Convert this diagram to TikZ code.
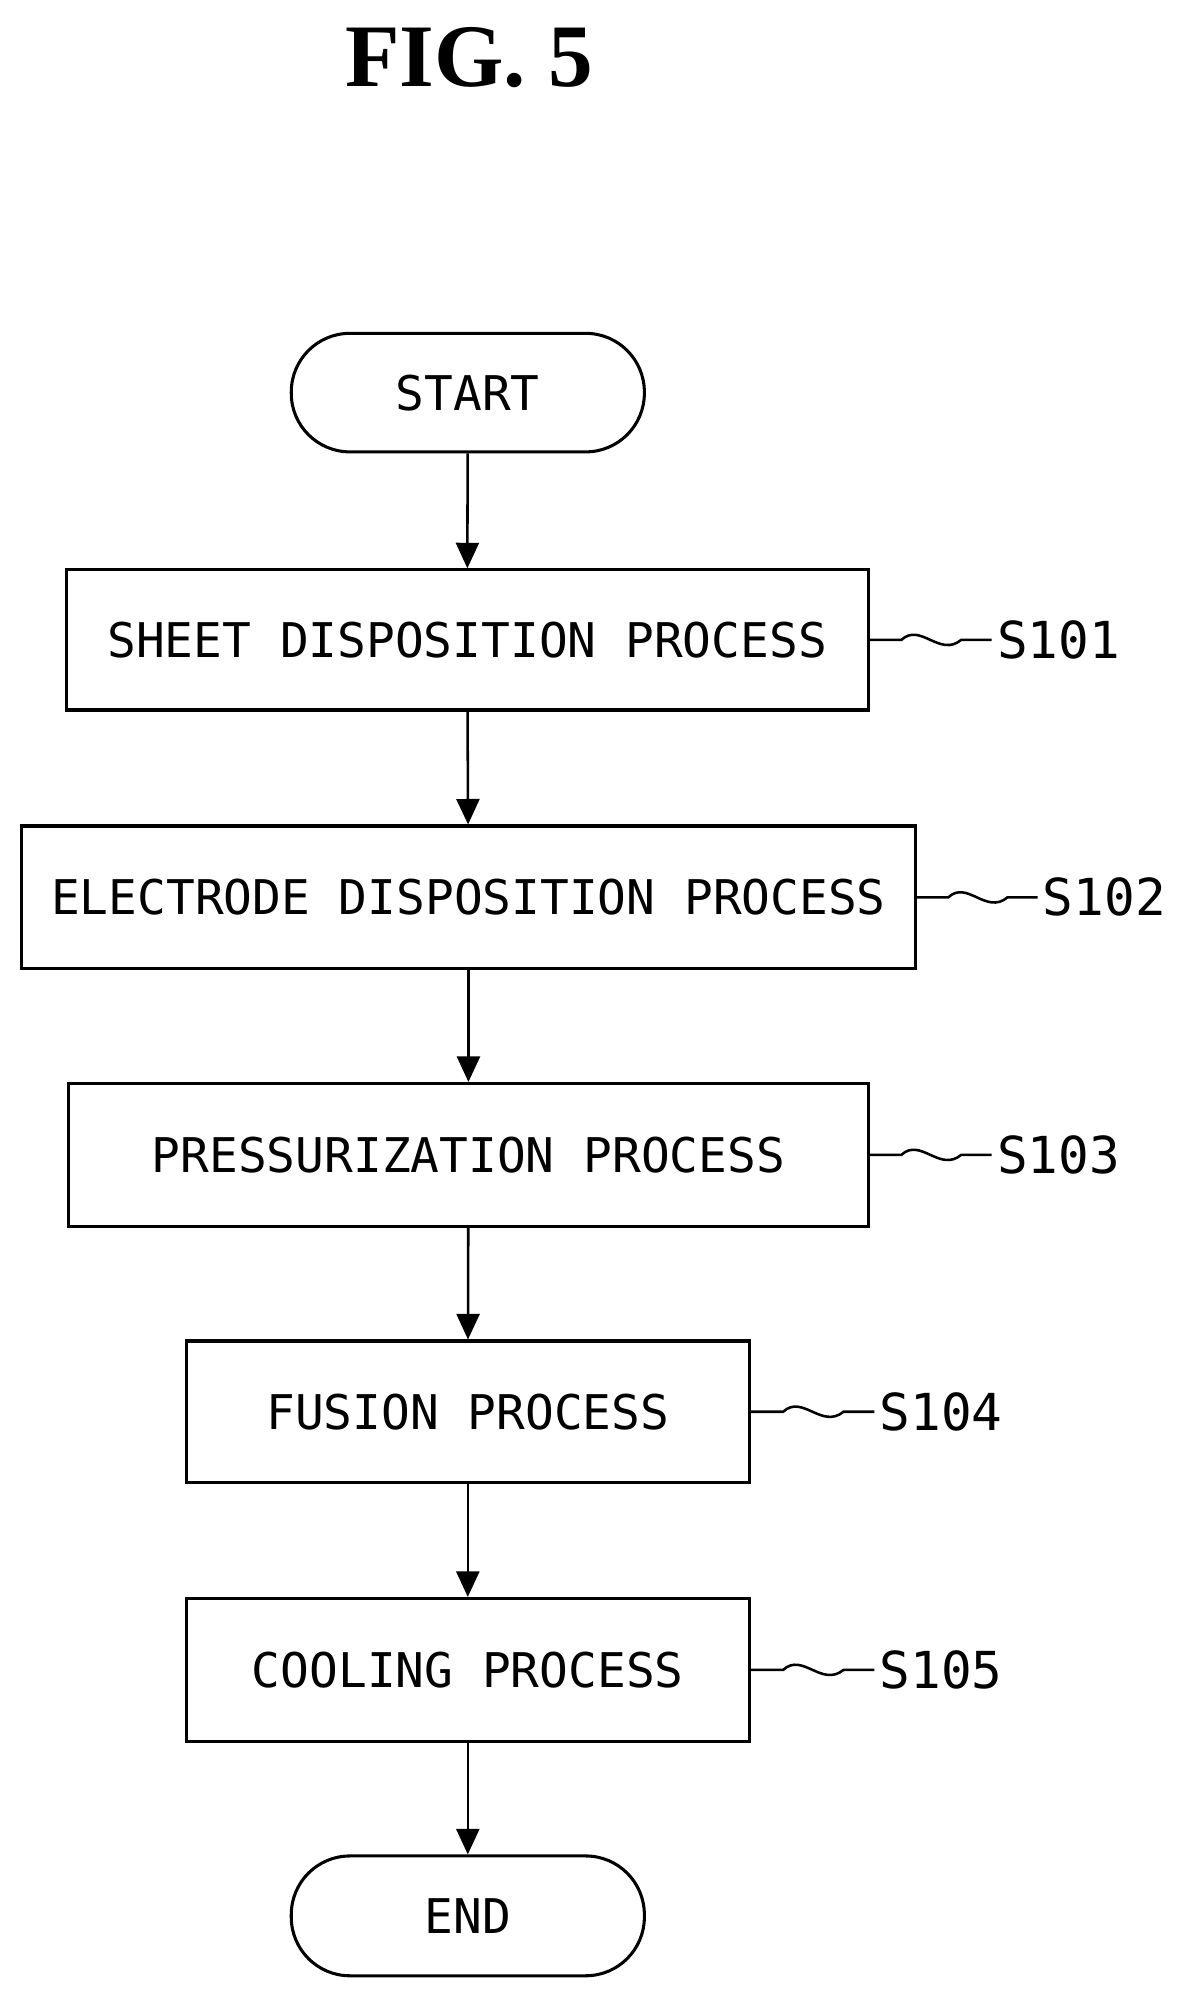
\documentclass[tikz,border=0pt]{standalone}
\usepackage{fontspec}
\setmainfont{Liberation Serif}
\newfontfamily\boxfont{DejaVu Sans Mono}
\usetikzlibrary{arrows.meta,calc}
\begin{document}
\begin{tikzpicture}[x=1pt,y=-1pt,
  box/.style={draw,line width=2.4pt,inner sep=0pt,font=\boxfont\fontsize{37.5}{42}\selectfont},
  term/.style={box,rounded corners=46pt},
  arr/.style={line width=2pt,-{Triangle[length=20pt,width=18pt]}},
  sq/.style={line width=2pt},
  lab/.style={font=\boxfont\fontsize{40}{44}\selectfont,anchor=west,inner sep=0pt}]
\useasboundingbox (0,0) rectangle (935,1580);
\node[font=\bfseries\fontsize{70}{80}\selectfont] (title) at (368,45) {FIG. 5};
\node[term,minimum width=277pt,minimum height=93pt] (start) at (367,308) {START};
\node[box,minimum width=629pt,minimum height=110pt] (s1) at (366.5,502) {SHEET DISPOSITION PROCESS};
\node[box,minimum width=701pt,minimum height=112pt] (s2) at (367.5,704) {ELECTRODE DISPOSITION PROCESS};
\node[box,minimum width=627pt,minimum height=112pt] (s3) at (367.5,906) {PRESSURIZATION PROCESS};
\node[box,minimum width=442pt,minimum height=111pt] (s4) at (367,1107.5) {FUSION PROCESS};
\node[box,minimum width=442pt,minimum height=112pt] (s5) at (367,1310) {COOLING PROCESS};
\node[term,minimum width=277pt,minimum height=94pt] (end) at (367,1503) {END};
\draw[arr] (start) -- (s1);
\draw[arr] (s1) -- (s2);
\draw[arr] (s2) -- (s3);
\draw[arr] (s3) -- (s4);
\draw[arr] (s4) -- (s5);
\draw[arr] (s5) -- (end);
\node[lab] (l1) at (782,502) {S101};
\node[lab] (l2) at (818,704) {S102};
\node[lab] (l3) at (782,906) {S103};
\node[lab] (l4) at (690,1107.5) {S104};
\node[lab] (l5) at (690,1310) {S105};
\foreach \b/\l in {s1/l1,s2/l2,s3/l3,s4/l4,s5/l5}{
  \path (\b.east) coordinate (a) (\l.west) coordinate (b);
  \draw[sq] (a) -- ($(a)!0.25!(b)$) .. controls ($(a)!0.4!(b)+(0,-14)$) and ($(a)!0.55!(b)+(0,14)$) .. ($(a)!0.72!(b)$) -- ($(b)+(-4,0)$);
}
\end{tikzpicture}
\end{document}
